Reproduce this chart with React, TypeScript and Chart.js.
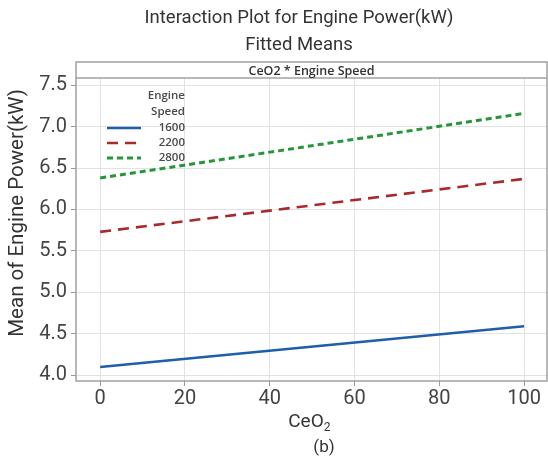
import React, { useEffect, useRef } from "react";
import { Chart, registerables } from "chart.js";

Chart.register(...registerables);

const CEO2 = [0, 100];
const SPEED_LABELS = ["1600", "2200", "2800"];
const P1600 = [4.1, 4.59];
const P2200 = [5.73, 6.37];
const P2800 = [6.38, 7.16];
const Y_TICKS = [4.0, 4.5, 5.0, 5.5, 6.0, 6.5, 7.0, 7.5];
const X_TICKS = [0, 20, 40, 60, 80, 100];
const COLORS = ["#1f5ea8", "#a82a2a", "#27963a"];
const DASHES: number[][] = [[], [11, 7], [6, 4]];
const WIDTHS = [2.5, 2.6, 3];

const FONT = "Roboto, 'Noto Sans', sans-serif";

const decorPlugin = {
  id: "decor",
  afterDraw(chart: any) {
    const ctx = chart.ctx;
    const a = chart.chartArea;
    ctx.save();
    // strip
    const stripBottom = a.top + 16;
    ctx.fillStyle = "#ffffff";
    ctx.fillRect(a.left, a.top, a.right - a.left, stripBottom - a.top);
    ctx.strokeStyle = "#a0a0a0";
    ctx.lineWidth = 1.5;
    ctx.beginPath();
    ctx.moveTo(a.left, stripBottom);
    ctx.lineTo(a.right, stripBottom);
    ctx.stroke();
    ctx.strokeRect(a.left, a.top, a.right - a.left, a.bottom - a.top);
    ctx.fillStyle = "#333";
    ctx.font = "600 12.5px 'Open Sans', sans-serif";
    ctx.textAlign = "center";
    ctx.textBaseline = "middle";
    ctx.fillText("CeO2 * Engine Speed", (a.left + a.right) / 2, (a.top + stripBottom) / 2 + 1);

    // legend
    ctx.font = "600 11.5px 'Open Sans', sans-serif";
    ctx.fillStyle = "#4a4a4a";
    ctx.textAlign = "right";
    ctx.fillText("Engine", 185, 96);
    ctx.fillText("Speed", 185, 112);
    const ys = [128, 143, 158];
    chart.data.datasets.forEach((ds: any, i: number) => {
      ctx.save();
      ctx.strokeStyle = ds.borderColor;
      ctx.lineWidth = ds.borderWidth;
      ctx.setLineDash(ds.borderDash || []);
      ctx.beginPath();
      ctx.moveTo(107, ys[i]);
      ctx.lineTo(141, ys[i]);
      ctx.stroke();
      ctx.restore();
      ctx.fillStyle = "#4a4a4a";
      ctx.fillText(ds.label, 185, ys[i]);
    });

    // titles
    ctx.fillStyle = "#333";
    ctx.textAlign = "center";
    ctx.font = `18.5px ${FONT}`;
    ctx.fillText("Interaction Plot for Engine Power(kW)", 299, 18);
    ctx.fillText("Fitted Means", 299, 45);

    ctx.font = `19px ${FONT}`;
    ctx.fillText("CeO", 306, 422);
    const w = ctx.measureText("CeO").width;
    ctx.font = `12px ${FONT}`;
    ctx.textAlign = "left";
    ctx.fillText("2", 306 + w / 2, 428);
    ctx.textAlign = "center";
    ctx.font = `17px ${FONT}`;
    ctx.fillText("(b)", 324, 448);

    ctx.save();
    ctx.translate(18, 213);
    ctx.rotate(-Math.PI / 2);
    ctx.font = `20.5px ${FONT}`;
    ctx.fillText("Mean of Engine Power(kW)", 0, 0);
    ctx.restore();
    ctx.restore();
  },
};

export default function App() {
  const ref = useRef<HTMLCanvasElement>(null);
  useEffect(() => {
    document.body.style.margin = "0";
    const series = [P1600, P2200, P2800];
    const chart = new Chart(ref.current!, {
      type: "line",
      data: {
        datasets: series.map((s, i) => ({
          label: SPEED_LABELS[i],
          data: CEO2.map((x, j) => ({ x, y: s[j] })),
          borderColor: COLORS[i],
          borderWidth: WIDTHS[i],
          borderDash: DASHES[i],
          pointRadius: 0,
          fill: false,
          tension: 0,
        })),
      },
      options: {
        animation: false,
        responsive: false,
        layout: { padding: { top: 62, right: 1, left: 0, bottom: 0 } },
        plugins: { legend: { display: false }, title: { display: false }, tooltip: { enabled: false } },
        scales: {
          x: {
            type: "linear",
            min: -5.7,
            max: 105.4,
            afterBuildTicks: (s: any) => {
              s.ticks = X_TICKS.map((v) => ({ value: v }));
            },
            afterFit: (s: any) => {
              s.height = 78;
            },
            grid: { color: "#e2e2e2", lineWidth: 1, tickLength: 5, tickColor: "#999" },
            border: { display: false },
            ticks: { font: { family: FONT, size: 20 }, color: "#444", padding: 1 },
          },
          y: {
            type: "linear",
            min: 3.93,
            max: 7.78,
            afterBuildTicks: (s: any) => {
              s.ticks = Y_TICKS.map((v) => ({ value: v }));
            },
            afterFit: (s: any) => {
              s.width = 76;
            },
            grid: { color: "#e2e2e2", lineWidth: 1, tickLength: 5, tickColor: "#999" },
            border: { display: false },
            ticks: {
              font: { family: FONT, size: 20 },
              color: "#444",
              padding: 4,
              callback: (v: any) => Number(v).toFixed(1),
            },
          },
        },
      },
      plugins: [decorPlugin],
    });
    return () => chart.destroy();
  }, []);
  return (
    <div style={{ position: "fixed", left: 0, top: 0, width: 548, height: 459 }}>
      <canvas ref={ref} width={548} height={459} />
    </div>
  );
}
